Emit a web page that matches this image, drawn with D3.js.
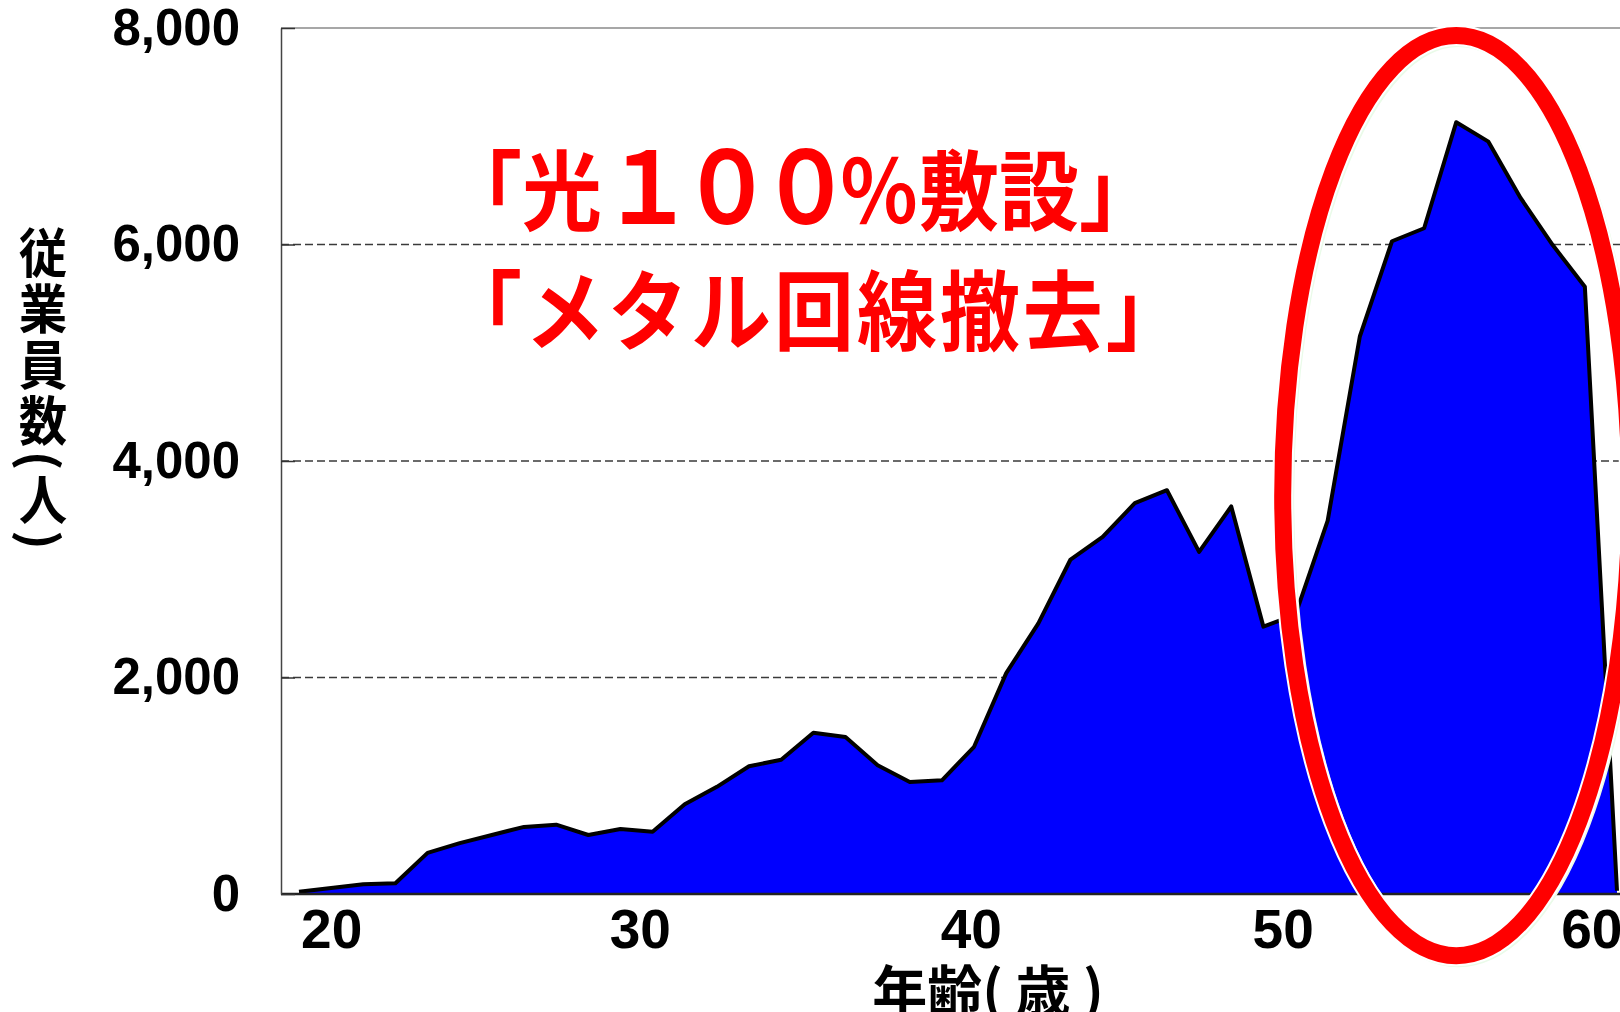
<!DOCTYPE html>
<html><head><meta charset="utf-8">
<script src="https://cdn.jsdelivr.net/npm/d3@7/dist/d3.min.js"></script>
<style>
html,body{margin:0;padding:0;background:#fff;overflow:hidden}
svg{display:block}
</style>
</head><body>
<svg id="chart" width="1620" height="1012"></svg>
<script>
// ---- data ----
const ages = [19,20,21,22,23,24,25,26,27,28,29,30,31,32,33,34,35,36,37,38,39,40,
              41,42,43,44,45,46,47,48,49,50,51,52,53,54,55,56,57,58,59,60];
const employees = [20,55,90,100,380,470,545,620,640,545,600,575,830,990,1180,1240,1490,1450,1190,1035,1050,1360,
                   2040,2500,3090,3300,3610,3730,3160,3580,2470,2580,3450,5150,6030,6150,7130,6950,6430,5995,5610,30];
const yTickValues = [0,2000,4000,6000,8000];
const gridValues = [2000,4000,6000];
const xTickValues = [20,29.6,39.9,49.6,59.2];
const xTickLabels = ["20","30","40","50","60"];
const yTitle = "従業員数(人)";
const xTitle = "年齢( 歳 )";
// each note line split into runs: [text, isDigitRun]
const noteLines = [
  [["「光",false],["１００",true],["％敷設」",false]],
  [["「メタル回線撤去」",false]]
];
const highlightAge = [49.6, 60.4];
const highlightValue = [-570, 7930];

const data = ages.map((a,i)=>({age:a, v:employees[i]}));

const W = 1620, H = 1012;
const svg = d3.select("#chart");
svg.append("rect").attr("width",W).attr("height",H).attr("fill","#fff");

const axisX = 281, plotTop = 28, plotBottom = 894, plotRight = 1620;
const x = d3.scaleLinear().domain([19,60]).range([299,1617]);
const y = d3.scaleLinear().domain([0,8000]).range([plotBottom, plotTop]);

const numFont = "'Liberation Sans', Arial, sans-serif";
const cjkFont = "'Noto Sans CJK JP', 'Noto Sans CJK SC', sans-serif";

// grid lines
svg.append("g").selectAll("line").data(gridValues).join("line")
  .attr("x1", axisX).attr("x2", plotRight)
  .attr("y1", d=>y(d)).attr("y2", d=>y(d))
  .attr("stroke","#3a3a3a").attr("stroke-width",1.5)
  .attr("stroke-dasharray","8,4");

// top border
svg.append("line").attr("x1",axisX).attr("x2",plotRight)
  .attr("y1",y(8000)).attr("y2",y(8000))
  .attr("stroke","#8a8a8a").attr("stroke-width",1.5);

// area
const area = d3.area().x(d=>x(d.age)).y0(y(0)).y1(d=>y(d.v));
const line = d3.line().x(d=>x(d.age)).y(d=>y(d.v));
svg.append("path").datum(data).attr("d",area).attr("fill","#0000ff");
svg.append("path").datum(data).attr("d",line).attr("fill","none")
  .attr("stroke","#000").attr("stroke-width",4).attr("stroke-linejoin","round");

// baseline
svg.append("line").attr("x1",axisX).attr("x2",plotRight)
  .attr("y1",y(0)).attr("y2",y(0))
  .attr("stroke","#222").attr("stroke-width",2.5);

// y axis
const yAxis = svg.append("g").attr("transform",`translate(${axisX},0)`)
  .call(d3.axisLeft(y).tickValues(yTickValues).tickFormat(d3.format(","))
        .tickSizeInner(-14).tickSizeOuter(0).tickPadding(41));
yAxis.select(".domain").attr("stroke","#444").attr("stroke-width",1.5);
yAxis.selectAll(".tick line").attr("stroke","#333").attr("stroke-width",1.5);
yAxis.selectAll(".tick text").attr("font-family",numFont).attr("font-size",51)
  .attr("font-weight","bold").attr("fill","#000");

// x axis
const xAxis = svg.append("g").attr("transform",`translate(0,${plotBottom})`)
  .call(d3.axisBottom(x).tickValues(xTickValues).tickFormat((d,i)=>xTickLabels[i])
        .tickSize(0).tickPadding(15));
xAxis.select(".domain").remove();
xAxis.selectAll(".tick text").attr("font-family",numFont).attr("font-size",55)
  .attr("font-weight","bold").attr("fill","#000");

// axis titles
svg.append("text").text(xTitle)
  .attr("x",988).attr("y",1011).attr("text-anchor","middle")
  .attr("font-family",cjkFont).attr("font-size",55).attr("font-weight","bold").attr("fill","#000");

svg.append("text").text(yTitle)
  .attr("transform","translate(43,226) scale(0.95,1.04)")
  .style("writing-mode","vertical-rl")
  .attr("font-family",cjkFont).attr("font-size",51).attr("font-weight","bold")
  .attr("letter-spacing",3).attr("fill","#000");

// annotation text
const noteBaselines = [224, 344];
const noteSpacing = [0, 3];
const notes = svg.append("g").selectAll("text").data(noteLines).join("text")
  .attr("transform",(d,i)=>`translate(442,${noteBaselines[i]}) scale(1,1.09)`)
  .attr("font-family",cjkFont).attr("font-size",80).attr("font-weight","bold")
  .attr("letter-spacing",(d,i)=>noteSpacing[i])
  .attr("fill","#ff0000");
notes.selectAll("tspan").data(d=>d).join("tspan")
  .text(d=>d[0])
  .attr("font-size",d=>d[1]?92:null)
  .attr("letter-spacing",d=>d[1]?-13:null);

// highlight ellipse
const cx = x((highlightAge[0]+highlightAge[1])/2);
const rx = (x(highlightAge[1]) - x(highlightAge[0]))/2;
const cy = (y(highlightValue[0]) + y(highlightValue[1]))/2;
const ry = (y(highlightValue[0]) - y(highlightValue[1]))/2;
svg.append("ellipse").attr("cx",cx+2).attr("cy",cy+2).attr("rx",rx).attr("ry",ry)
  .attr("fill","none").attr("stroke","#eafbe9").attr("stroke-width",19);
svg.append("ellipse").attr("cx",cx).attr("cy",cy).attr("rx",rx).attr("ry",ry)
  .attr("fill","none").attr("stroke","#ffffff").attr("stroke-width",21);
svg.append("ellipse").attr("cx",cx).attr("cy",cy).attr("rx",rx).attr("ry",ry)
  .attr("fill","none").attr("stroke","#ff0000").attr("stroke-width",17);
</script>
</body></html>
